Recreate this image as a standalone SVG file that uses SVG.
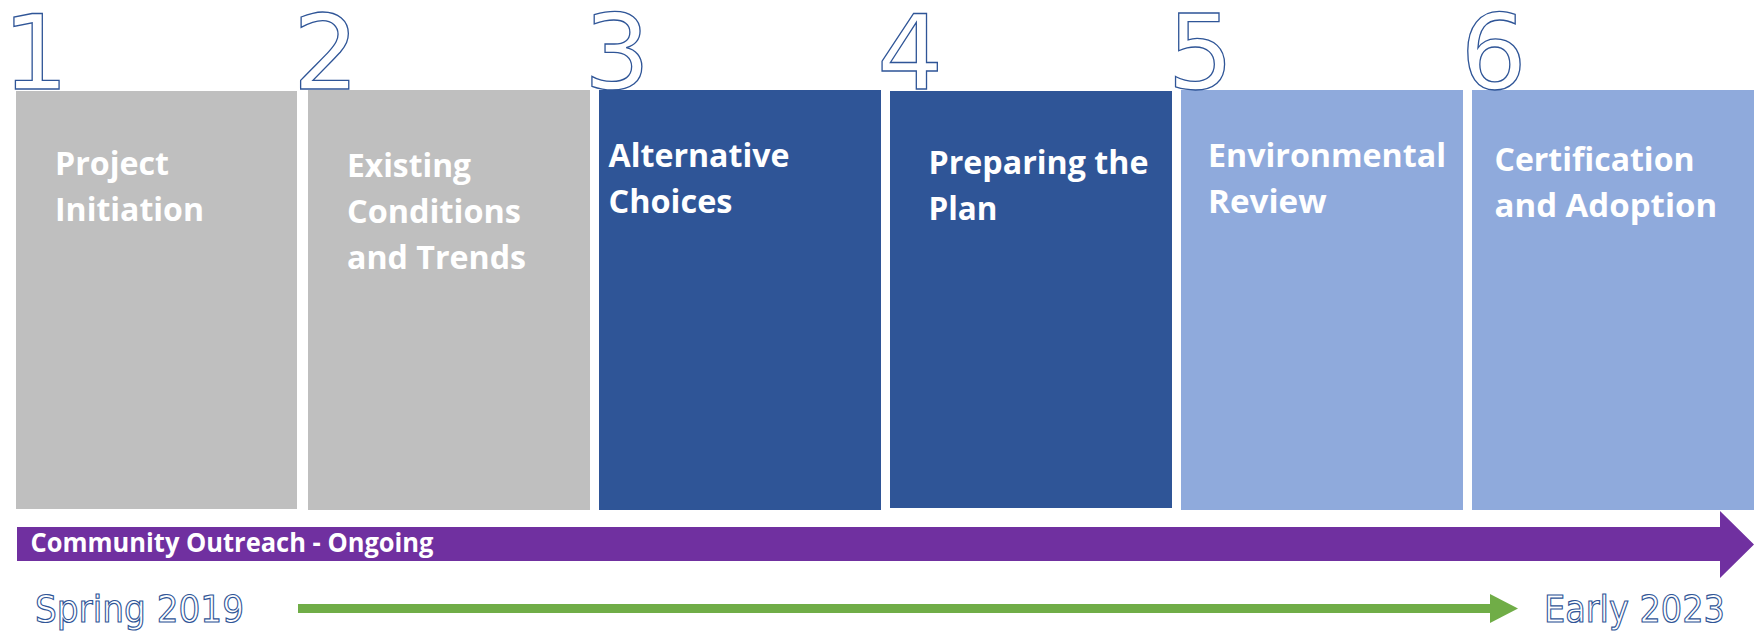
<svg xmlns="http://www.w3.org/2000/svg" width="1754" height="631" viewBox="0 0 1754 631">
  <style>
    .gray { fill: #BFBFBF; }
    .dark { fill: #2F5597; }
    .light { fill: #8FAADC; }
    .label { font-family: "Open Sans", "Liberation Sans", sans-serif; font-weight: 700; font-size: 33px; fill: #FFFFFF; }
    .num { font-family: "DejaVu Sans", sans-serif; font-size: 104px; fill: #FFFFFF; stroke: #2F5597; stroke-width: 1.3; text-anchor: middle; }
    .date { font-family: "DejaVu Sans", sans-serif; font-size: 38px; fill: #FFFFFF; stroke: #2F5597; stroke-width: 1.2; }
    .band { font-family: "Open Sans", "Liberation Sans", sans-serif; font-weight: 700; font-size: 27px; fill: #FFFFFF; }
  </style>

  <rect width="1754" height="631" fill="#FFFFFF"/>

  <!-- phase steps -->
  <g id="step1">
    <rect class="gray" x="16" y="91" width="281" height="418"/>
    <text class="num" x="35.5" y="89">1</text>
    <text class="label" x="55" y="175" textLength="114" lengthAdjust="spacingAndGlyphs">Project</text>
    <text class="label" x="55" y="221" textLength="149" lengthAdjust="spacingAndGlyphs">Initiation</text>
  </g>

  <g id="step2">
    <rect class="gray" x="308" y="90" width="282" height="420"/>
    <text class="num" x="326" y="89">2</text>
    <text class="label" x="347" y="177" textLength="124" lengthAdjust="spacingAndGlyphs">Existing</text>
    <text class="label" x="347" y="223" textLength="174" lengthAdjust="spacingAndGlyphs">Conditions</text>
    <text class="label" x="347" y="269" textLength="179" lengthAdjust="spacingAndGlyphs">and Trends</text>
  </g>

  <g id="step3">
    <rect class="dark" x="599" y="90" width="282" height="420"/>
    <text class="num" x="617" y="89">3</text>
    <text class="label" x="608.5" y="167" textLength="181" lengthAdjust="spacingAndGlyphs">Alternative</text>
    <text class="label" x="608.5" y="213" textLength="124" lengthAdjust="spacingAndGlyphs">Choices</text>
  </g>

  <g id="step4">
    <rect class="dark" x="890" y="91" width="282" height="417"/>
    <text class="num" x="910" y="89">4</text>
    <text class="label" x="928.5" y="174" textLength="220" lengthAdjust="spacingAndGlyphs">Preparing the</text>
    <text class="label" x="928.5" y="220" textLength="69" lengthAdjust="spacingAndGlyphs">Plan</text>
  </g>

  <g id="step5">
    <rect class="light" x="1181" y="90" width="282" height="420"/>
    <text class="num" x="1200.5" y="89">5</text>
    <text class="label" x="1208" y="167" textLength="238" lengthAdjust="spacingAndGlyphs">Environmental</text>
    <text class="label" x="1208" y="213" textLength="118.6" lengthAdjust="spacingAndGlyphs">Review</text>
  </g>

  <g id="step6">
    <rect class="light" x="1472" y="90" width="282" height="420"/>
    <text class="num" x="1493.5" y="89">6</text>
    <text class="label" x="1494.5" y="171" textLength="200" lengthAdjust="spacingAndGlyphs">Certification</text>
    <text class="label" x="1494.5" y="217" textLength="222.6" lengthAdjust="spacingAndGlyphs">and Adoption</text>
  </g>

  <!-- timeline arrows -->
  <g id="connectors">
    <polygon fill="#7030A0" points="17,527 1720,527 1720,511 1754,544.5 1720,578 1720,561 17,561"/>
    <rect fill="#70AD47" x="298" y="604" width="1192" height="9"/>
    <polygon fill="#70AD47" points="1490,594 1518,608.5 1490,623"/>
  </g>

  <g id="outreach">
    <text class="band" x="30.5" y="552" textLength="403" lengthAdjust="spacingAndGlyphs">Community Outreach - Ongoing</text>
  </g>

  <g id="start-date">
    <text class="date" x="35" y="622" textLength="209" lengthAdjust="spacingAndGlyphs">Spring 2019</text>
  </g>

  <g id="end-date">
    <text class="date" x="1544" y="622" textLength="181" lengthAdjust="spacingAndGlyphs">Early 2023</text>
  </g>
</svg>
